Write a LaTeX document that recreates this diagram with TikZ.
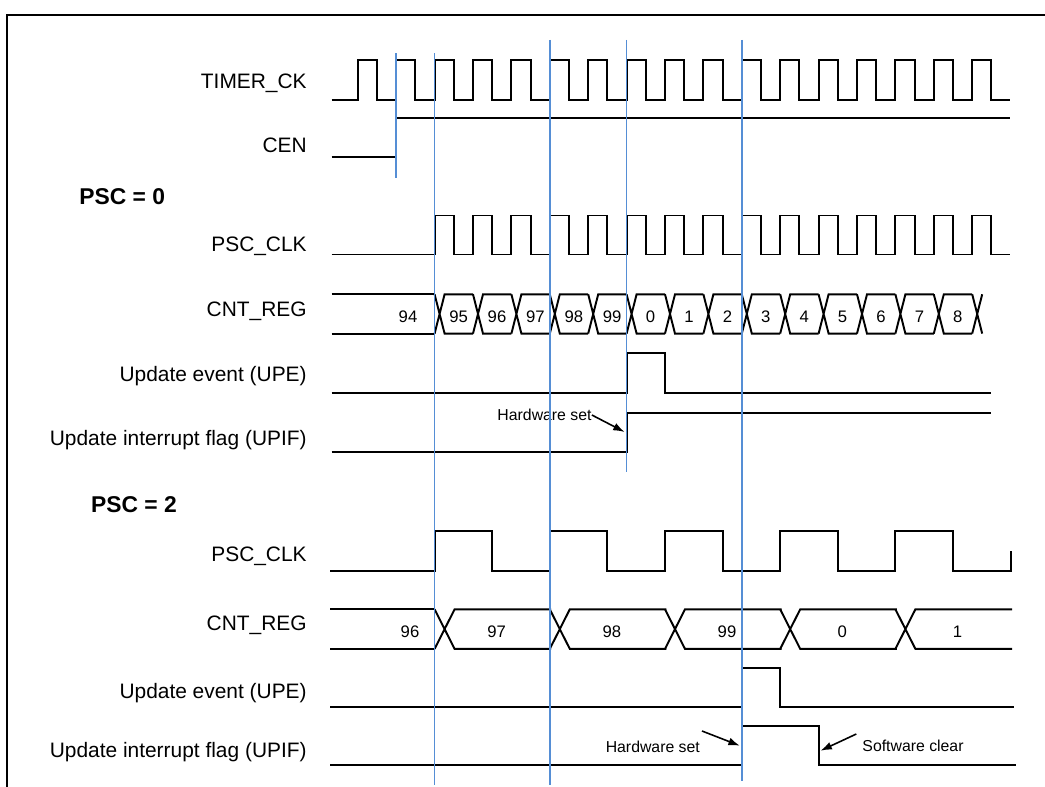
\documentclass[tikz,border=0pt]{standalone}
\usepackage{fontspec}
\setmainfont{Liberation Sans}
\usetikzlibrary{arrows.meta}
\definecolor{guideblue}{RGB}{85,142,213}
\tikzset{
  sig/.style={line width=1.1pt},
  guide/.style={draw=guideblue,line width=0.95pt},
  lbl/.style={anchor=east,inner sep=0pt,font=\fontsize{11.9}{14}\selectfont},
  sect/.style={anchor=west,inner sep=0pt,font=\fontsize{13}{15}\selectfont\bfseries},
  val/.style={inner sep=0pt,font=\fontsize{9.5}{11}\selectfont},
  note/.style={inner sep=0pt,font=\fontsize{9}{11}\selectfont},
  pointer/.style={line width=0.9pt,-{Latex[length=6.5pt,width=4.5pt]}}
}

\begin{document}
\begin{tikzpicture}[x=0.02cm,y=-0.02cm]
  \useasboundingbox (0,0) rectangle (1045,787);
  % Frame
  \draw[line width=1.1pt] (7.3,800) -- (7.3,15) -- (1050,15);

  % Labels
  \node[lbl] (tck) at (307,83.3) {TIMER\_CK};
  \node[lbl] (cen) at (307,145.7) {CEN};
  \node[sect] (psc0) at (79,196.7) {PSC = 0};
  \node[lbl] (clka) at (307,246.7) {PSC\_CLK};
  \node[lbl] (cnta) at (307,311) {CNT\_REG};
  \node[lbl] (upea) at (307,376) {Update event (UPE)};
  \node[lbl] (upifa) at (307,440) {Update interrupt flag (UPIF)};
  \node[sect] (psc2) at (90.7,505) {PSC = 2};
  \node[lbl] (clkb) at (307,556.7) {PSC\_CLK};
  \node[lbl] (cntb) at (307,625) {CNT\_REG};
  \node[lbl] (upeb) at (307,693) {Update event (UPE)};
  \node[lbl] (upifb) at (307,751.7) {Update interrupt flag (UPIF)};

  % TIMER_CK and CEN
  \draw[sig] (331.5,100) -- (357.8,100)
    \foreach \k in {0,...,15} {-- ++(0,-40) -- ++(19.2,0) -- ++(0,40) -- ++(19.2,0)}
    -- ++(0,-40) -- ++(19.2,0) -- ++(0,40) -- (1010,100);
  \draw[sig] (331.5,156.7) -- (396.2,156.7) -- (396.2,118.3) -- (1010,118.3);

  % PSC = 0
  \draw[sig] (331.5,254.5) -- (434.6,254.5)
    \foreach \k in {2,...,15} {-- ++(0,-39) -- ++(19.2,0) -- ++(0,39) -- ++(19.2,0)}
    -- ++(0,-39) -- ++(19.2,0) -- ++(0,39) -- (1010,254.5);
  \draw[sig] (331.5,294.3) -- (434.6,294.3) (331.5,333.6) -- (434.6,333.6);
  \foreach \k in {2,...,15} {
    \pgfmathsetmacro{\ek}{357.8+38.4*\k}
    \draw[sig] (\ek,294.3) -- ++(10,39.3) -- ++(28.4,0)
      (\ek,333.6) -- ++(10,-39.3) -- ++(28.4,0);
  }
  \draw[sig] (972.2,294.3) -- ++(10,39.3) (972.2,333.6) -- ++(10,-39.3);
  \node[val] (va1) at (408,317) {94};
  \foreach \k/\v in {2/95,3/96,4/97,5/98,6/99,7/0,8/1,9/2,10/3,11/4,12/5,13/6,14/7,15/8} {
    \pgfmathsetmacro{\ek}{357.8+38.4*\k}
    \node[val] (va\k) at (\ek+24,317) {\v};
  }
  \draw[sig] (331.5,392.7) -- (626.6,392.7) -- (626.6,353.3) -- (665,353.3)
    -- (665,392.7) -- (990.6,392.7);
  \draw[sig] (331.5,451.7) -- (626.6,451.7) -- (626.6,413.3) -- (990.6,413.3);
  \node[note] (hwa) at (544.5,415) {Hardware set};
  \coordinate (hwatip) at (624.6,432);
  \draw[pointer] (hwa.east) -- (hwatip);

  % PSC = 2
  \draw[sig] (330,570.7) -- (434.6,570.7)
    \foreach \j in {0,...,4} {-- ++(0,-40) -- ++(57.6,0) -- ++(0,40) -- ++(57.6,0)}
    -- ++(0,-20);
  \draw[sig] (330,609.3) -- (434.6,609.3) (330,648.9) -- (434.6,648.9);
  \foreach \k in {2,5,8,11,14} {
    \pgfmathsetmacro{\ek}{357.8+38.4*\k}
    \draw[sig] (\ek,609.3) -- ++(20,39.6) -- ++(96.6,0)
      (\ek,648.9) -- ++(20,-39.6) -- ++(96.6,0);
  }
  \node[val] (vb1) at (410,632) {96};
  \foreach \k/\v in {2/97,5/98,8/99,11/0,14/1} {
    \pgfmathsetmacro{\ek}{357.8+38.4*\k}
    \node[val] (vb\k) at (\ek+62,632) {\v};
  }
  \draw[sig] (330,706.7) -- (741.8,706.7) -- (741.8,668.3) -- (780.2,668.3)
    -- (780.2,706.7) -- (1014,706.7);
  \draw[sig] (330,765) -- (741.8,765) -- (741.8,725.7) -- (818.6,725.7)
    -- (818.6,765) -- (1016,765);
  \node[note] (hwb) at (652.8,747.3) {Hardware set};
  \coordinate (hwbtail) at (702,731);
  \coordinate (hwbtip) at (739.8,745.7);
  \draw[pointer] (hwbtail) -- (hwbtip);
  \node[note] (swc) at (913,745.7) {Software clear};
  \coordinate (swctail) at (856.3,734);
  \coordinate (swctip) at (820.5,750.7);
  \draw[pointer] (swctail) -- (swctip);

  % Guide lines
  \draw[guide] (396.2,53.3) -- (396.2,178.3);
  \draw[guide] (434.6,53.3) -- (434.6,785);
  \draw[guide] (549.8,40) -- (549.8,785);
  \draw[guide] (626.6,40) -- (626.6,471.7);
  \draw[guide] (741.8,40) -- (741.8,781);
\end{tikzpicture}
\end{document}
